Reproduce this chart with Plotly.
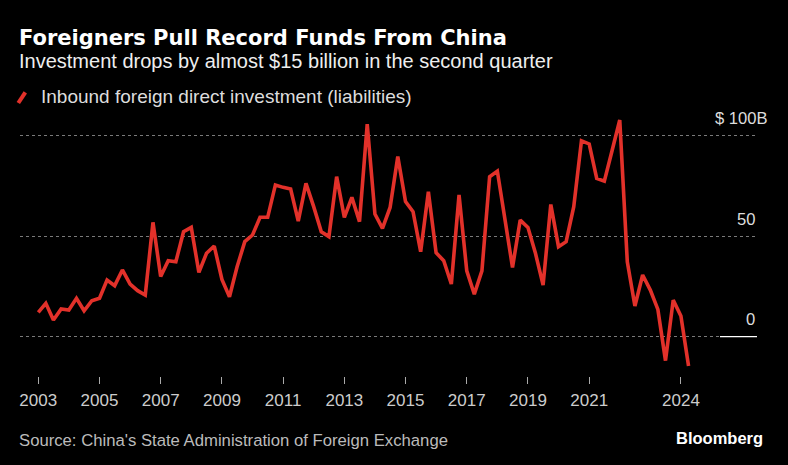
import pandas as pd
import plotly.graph_objects as go

# ---- data (USD billions, quarterly, 2003 Q1 .. 2024 Q2) ----
first_quarter = "2003-01-01"
fdi_values = [
    12.1, 16.6, 8.3, 13.8,
    13.3, 19.1, 12.9, 17.9,
    19.1, 28.2, 25.4, 33.2,
    26.2, 22.9, 20.7, 56.9,
    29.9, 37.8, 37.3, 52.2,
    54.4, 32.0, 41.5, 45.1,
    28.5, 19.9, 34.8, 47.3,
    50.6, 59.4, 59.4, 75.5,
    74.3, 73.5, 57.5, 76.3,
    64.7, 52.2, 49.8, 79.6,
    59.4, 69.3, 57.2, 105.8,
    61.0, 53.9, 64.3, 89.6,
    67.2, 62.2, 42.3, 72.1,
    41.8, 37.8, 26.2, 70.5,
    32.8, 21.2, 32.8, 79.6,
    82.4, 58.5, 34.5, 58.0,
    54.4, 41.5, 25.7, 65.8,
    44.8, 47.3, 64.7, 97.5,
    95.9, 78.8, 77.4, 92.5,
    107.8, 37.3, 15.3, 30.7,
    23.2, 13.6, -11.9, 18.2,
    10.3, -14.6,
]
quarters = pd.date_range(first_quarter, periods=len(fdi_values), freq="QS")

tick_years = [2003, 2005, 2007, 2009, 2011, 2013, 2015, 2017, 2019, 2021, 2024]
tick_dates = [f"{y}-01-01" for y in tick_years]
tick_text = [str(y) for y in tick_years]

y_grid_values = [0, 50, 100]
y_grid_labels = ["0", "50", "$ 100B"]

title = "Foreigners Pull Record Funds From China"
subtitle = "Investment drops by almost $15 billion in the second quarter"
series_name = "Inbound foreign direct investment (liabilities)"
source = "Source: China's State Administration of Foreign Exchange"

# ---- layout geometry (pixels) ----
W, H = 788, 465
L, R, T, B = 20, 31, 115, 89
PW, PH = W - L - R, H - T - B

def px(x):
    return (x - L) / PW

def py(y):
    return (H - B - y) / PH

RED = "#e2312a"
FONT = "Liberation Sans"
TITLE_FONT = "DejaVu Sans"

fig = go.Figure()
fig.add_trace(go.Scatter(
    x=quarters, y=fdi_values, mode="lines", name=series_name,
    line=dict(color=RED, width=3.6), showlegend=False, hoverinfo="x+y",
))

annotations = [
    dict(text=f"<b>{title}</b>", x=px(17), y=py(38),
         font=dict(size=21, color="#ffffff", family=TITLE_FONT)),
    dict(text=subtitle, x=px(17), y=py(61), font=dict(size=20, color="#eeeeee")),
    dict(text=series_name, x=px(39), y=py(96), font=dict(size=19, color="#dddddd")),
    dict(text=source, x=px(17), y=py(440), font=dict(size=16.7, color="#bbbbbb")),
    dict(text="<b>Bloomberg</b>", x=px(765), y=py(438), xanchor="right",
         font=dict(size=16.5, color="#ffffff")),
]
for v, lab in zip(y_grid_values, y_grid_labels):
    annotations.append(dict(
        text=lab, x=px(770 if lab.endswith("B") else 757), y=v, yref="y",
        yshift=17, xanchor="right", font=dict(size=16.6, color="#dddddd"),
    ))
for a in annotations:
    a.setdefault("xref", "paper")
    a.setdefault("yref", "paper")
    a.setdefault("xanchor", "left")
    a.setdefault("yanchor", "middle")
    a["showarrow"] = False
    a["font"].setdefault("family", FONT)

shapes = [
    # legend slash icon
    dict(type="line", xref="paper", yref="paper", x0=px(18.3), y0=py(103),
         x1=px(25.3), y1=py(92.3), line=dict(color=RED, width=4)),
    # solid zero marker on the right
    dict(type="line", xref="paper", yref="y", x0=px(720), x1=px(757), y0=0, y1=0,
         line=dict(color="#ffffff", width=1.3)),
]

fig.update_layout(
    width=W, height=H,
    margin=dict(l=L, r=R, t=T, b=B, pad=0),
    paper_bgcolor="#000000", plot_bgcolor="#000000",
    annotations=annotations, shapes=shapes,
    showlegend=False,
    xaxis=dict(
        type="date",
        range=["2002-05-28", "2026-06-27"],
        tickmode="array", tickvals=tick_dates, ticktext=tick_text,
        ticks="outside", ticklen=7, tickwidth=1, tickcolor="#aaaaaa",
        showgrid=False, zeroline=False, showline=False,
        tickfont=dict(family=FONT, size=17, color="#cccccc"),
        ticklabelstandoff=2,
        fixedrange=True,
    ),
    yaxis=dict(
        range=[-19.55, 110.3],
        tickmode="array", tickvals=y_grid_values, showticklabels=False,
        showgrid=True, gridcolor="#7a7a7a", griddash="dot", gridwidth=1,
        zeroline=False, showline=False, ticks="",
        fixedrange=True,
    ),
)

fig.write_html(
    "out.html",
    config={"displayModeBar": False},
    post_script="document.body.style.margin='0';document.body.style.padding='0';"
                "document.body.style.background='#000';"
                "document.documentElement.style.overflow='hidden';",
)
